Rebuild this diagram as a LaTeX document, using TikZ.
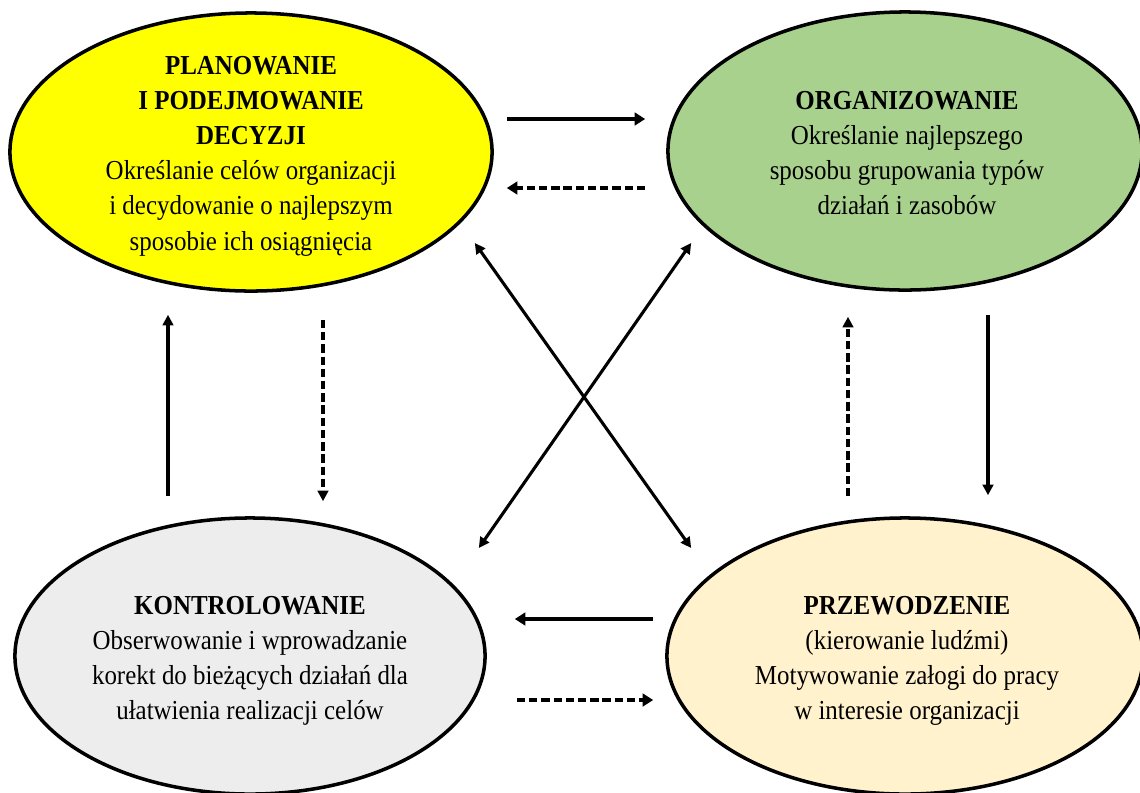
\documentclass[tikz,border=0pt]{standalone}
\usepackage{fontspec}
\setmainfont{Liberation Serif}[FakeStretch=0.91]
\usepackage{xcolor}
\usepackage{tikz}
\usetikzlibrary{arrows.meta,shapes.geometric}

\definecolor{planyellow}{HTML}{FFFF00}
\definecolor{orggreen}{HTML}{A9D18E}
\definecolor{ctrlgray}{HTML}{EDEDED}
\definecolor{leadcream}{HTML}{FFF2CC}

\begin{document}
\begin{tikzpicture}[
  x=0.025cm, y=-0.025cm,
  oval/.style={ellipse, draw, line width=2.5pt, inner sep=0pt},
  txt/.style={align=center, inner sep=0pt, font=\fontsize{19.5}{25}\selectfont},
  arr/.style={-{Triangle[length=7.5pt, width=9pt]}, line width=2.9pt},
  varr/.style={-{Triangle[length=7.5pt, width=7.5pt]}, line width=2.3pt},
  darr/.style={{Triangle[length=7.5pt, width=7.5pt]}-{Triangle[length=7.5pt, width=7.5pt]}, line width=2.2pt},
  dash6/.style={dash pattern=on 6pt off 2.7pt}]
  \useasboundingbox (0,0) rectangle (1140,792);
  \node[oval, fill=planyellow, minimum width=12.05cm, minimum height=6.95cm] (plan) at (251,152) {};
  \node[oval, fill=orggreen, minimum width=11.85cm, minimum height=6.95cm] (org) at (905,151) {};
  \node[oval, fill=ctrlgray, minimum width=11.75cm, minimum height=6.9cm] (ctrl) at (250,656) {};
  \node[oval, fill=leadcream, minimum width=11.9cm, minimum height=6.9cm] (lead) at (905,656) {};
  \node[txt] (planTxt) at (251,156) {\textbf{PLANOWANIE}\\\textbf{I PODEJMOWANIE}\\\textbf{DECYZJI}\\Określanie celów organizacji\\i decydowanie o najlepszym\\sposobie ich osiągnięcia};
  \node[txt] (orgTxt) at (907,153) {\textbf{ORGANIZOWANIE}\\Określanie najlepszego\\sposobu grupowania typów\\działań i zasobów};
  \node[txt] (ctrlTxt) at (250,661) {\textbf{KONTROLOWANIE}\\Obserwowanie i wprowadzanie\\korekt do bieżących działań dla\\ułatwienia realizacji celów};
  \node[txt] (leadTxt) at (907,661) {\textbf{PRZEWODZENIE}\\(kierowanie ludźmi)\\Motywowanie załogi do pracy\\w interesie organizacji};
  \draw[arr] ([shift={(13,-33)}]plan.east) -- ([shift={(-21,-32)}]org.west);
  \draw[arr, dash6] ([shift={(-21,37)}]org.west) -- ([shift={(13,36)}]plan.east);
  \draw[varr] ([shift={(-82,-20)}]ctrl.north) -- ([shift={(-83,22)}]plan.south);
  \draw[varr, dash6] ([shift={(72,27)}]plan.south) -- ([shift={(73,-15)}]ctrl.north);
  \draw[varr, dash6] ([shift={(-57,-20)}]lead.north) -- ([shift={(-57,25)}]org.south);
  \draw[varr] ([shift={(83,23)}]org.south) -- ([shift={(83,-21)}]lead.north);
  \draw[arr] ([shift={(-12,-37)}]lead.west) -- ([shift={(28,-37)}]ctrl.east);
  \draw[arr, dash6] ([shift={(30,44)}]ctrl.east) -- ([shift={(-12,44)}]lead.west);
  \draw[darr] ([shift={(-19,91)}]plan.east) -- ([shift={(26,-108)}]lead.west);
  \draw[darr] ([shift={(25,92)}]org.west) -- ([shift={(-8,-108)}]ctrl.east);
\end{tikzpicture}
\end{document}
